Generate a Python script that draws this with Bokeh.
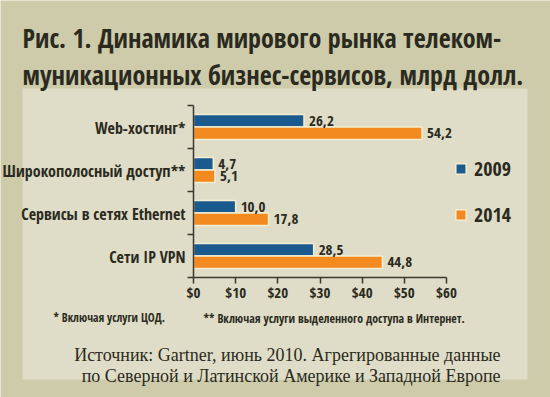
from bokeh.plotting import figure
from bokeh.models import (Range1d, FixedTicker, BoxAnnotation, Label, LabelSet,
                          ColumnDataSource, Legend, LegendItem)
from bokeh.core.properties import value
from bokeh.transform import dodge
from bokeh.embed import file_html
from bokeh.resources import INLINE

# ---- data ----
categories = ["Web-хостинг*", "Широкополосный доступ**", "Сервисы в сетях Ethernet", "Сети IP VPN"]
values_2009 = [26.2, 4.7, 10.0, 28.5]
values_2014 = [54.2, 5.1, 17.8, 44.8]
labels_2009 = ["26,2", "4,7", "10,0", "28,5"]
labels_2014 = ["54,2", "5,1", "17,8", "44,8"]
series_names = ["2009", "2014"]
x_ticks = [0, 10, 20, 30, 40, 50, 60]
x_tick_labels = ["$0", "$10", "$20", "$30", "$40", "$50", "$60"]

title_lines = ["Рис. 1. Динамика мирового рынка телеком-",
               "муникационных бизнес-сервисов, млрд долл."]
footnote_1 = "* Включая услуги ЦОД."
footnote_2 = "** Включая услуги выделенного доступа в Интернет."
source_lines = ["Источник: Gartner, июнь 2010. Агрегированные данные",
                "по Северной и Латинской Америке и Западной Европе"]

# ---- style ----
W, H = 550, 397
OLIVE = "#cdcba9"
PANEL = "#dfddc7"
BLUE = "#1b5a8e"
ORANGE = "#f28a1f"
CREAM = "#f3eed2"
INK = "#2b2a20"
COND = "Open Sans Condensed"
SERIF = "Liberation Serif"

n = len(categories)
XMAX = x_ticks[-1]
# pixel -> data conversion (layout only)
PX0, PX1 = 193.0, 446.0      # x pixel of 0 and XMAX
PY0, PYN = 277.0, 105.0      # y pixel of 0 and n
KX = (PX1 - PX0) / XMAX
KY = (PY0 - PYN) / n

def dx(px):
    return (px - PX0) / KX

def dy(py):
    return (PY0 - py) / KY

ypos = [n - i - 0.5 for i in range(n)]
src = ColumnDataSource(dict(y=ypos, cat=categories, v1=values_2009, v2=values_2014,
                            l1=labels_2009, l2=labels_2014, zero=[0] * n))

p = figure(width=W, height=H, x_range=Range1d(dx(0), dx(W)), y_range=Range1d(dy(H), dy(0)),
           output_backend="svg", toolbar_location=None, min_border=0)
p.border_fill_color = OLIVE
p.background_fill_color = OLIVE
p.outline_line_color = None
p.grid.visible = False

panel = BoxAnnotation(left=dx(22), right=dx(527), top=dy(88), bottom=dy(379),
                      fill_color=PANEL, fill_alpha=1, line_color=None, level="underlay")
p.add_layout(panel)

# axes
p.xaxis.fixed_location = 0
p.xaxis.bounds = (0, XMAX)
p.yaxis.fixed_location = 0
p.yaxis.bounds = (0, n)
p.xaxis.ticker = FixedTicker(ticks=x_ticks)
p.xaxis.major_label_overrides = {t: l for t, l in zip(x_ticks, x_tick_labels)}
p.yaxis.ticker = FixedTicker(ticks=list(range(n + 1)))
p.yaxis.major_label_overrides = {i: "" for i in range(n + 1)}
for ax in (p.xaxis, p.yaxis):
    ax.axis_line_color = "#3a392d"
    ax.axis_line_width = 1.5
    ax.major_tick_line_color = "#3a392d"
    ax.major_tick_line_width = 1.5
    ax.major_tick_in = 0
    ax.major_tick_out = 6
    ax.minor_tick_line_color = None
p.xaxis.major_label_text_font = COND
p.xaxis.major_label_text_font_style = "bold"
p.xaxis.major_label_text_font_size = "15px"
p.xaxis.major_label_text_color = INK
p.xaxis.major_label_standoff = -2

bh = 0.29
off = 0.145
r1 = p.hbar(y=dodge("y", off, range=p.y_range), left="zero", right="v1", height=bh, source=src,
            fill_color=BLUE, line_color=CREAM, line_width=1.5)
r2 = p.hbar(y=dodge("y", -off, range=p.y_range), left="zero", right="v2", height=bh, source=src,
            fill_color=ORANGE, line_color=CREAM, line_width=1.5)

lab_kw = dict(source=src, x_offset=5, text_baseline="middle", text_font=value(COND),
              text_font_style="bold", text_font_size="15px", text_color=INK)
p.add_layout(LabelSet(x="v1", y=dodge("y", off, range=p.y_range), text="l1", **lab_kw))
p.add_layout(LabelSet(x="v2", y=dodge("y", -off, range=p.y_range), text="l2", **lab_kw))

p.add_layout(LabelSet(x="zero", y="y", text="cat", source=src, x_offset=-8, y_offset=-1,
                      text_align="right", text_baseline="middle", text_font=value(COND),
                      text_font_style="bold", text_font_size="16px", text_color=INK))

legend = Legend(items=[LegendItem(label=series_names[0], renderers=[r1]),
                       LegendItem(label=series_names[1], renderers=[r2])],
                location=(454, 169), orientation="vertical",
                glyph_width=13, glyph_height=13, label_height=13, spacing=19,
                label_standoff=7, padding=0, margin=0,
                border_line_color=None, background_fill_alpha=0,
                label_text_font=COND, label_text_font_style="bold",
                label_text_font_size="20px", label_text_color=INK,
                label_text_baseline="middle")
p.add_layout(legend)

# texts
def add_text(txt, px, py, font, size, bold=True, align="left"):
    p.add_layout(Label(x=dx(px), y=dy(py), text=txt, text_align=align, text_baseline="alphabetic",
                       text_font=font, text_font_style="bold" if bold else "normal",
                       text_font_size=size, text_color=INK))

add_text(title_lines[0], 22, 37, COND, "26px")
add_text(title_lines[1], 22, 74, COND, "26px")
add_text(footnote_1, 53, 317, COND, "11.6px")
add_text(footnote_2, 203, 317, COND, "11.8px")
add_text(source_lines[0], 500, 354, SERIF, "18px", bold=False, align="right")
add_text(source_lines[1], 500, 375, SERIF, "18px", bold=False, align="right")

open("out.html", "w").write(file_html(p, INLINE))
